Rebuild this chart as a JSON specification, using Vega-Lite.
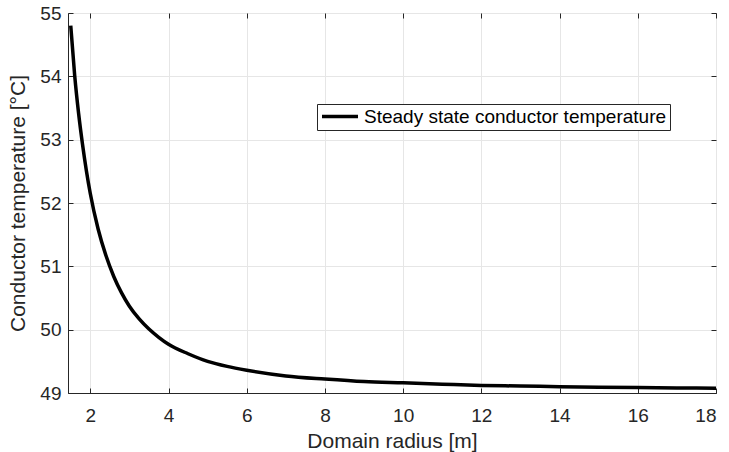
{
  "$schema": "https://vega.github.io/schema/vega-lite/v6.json",
  "width": 648,
  "height": 380,
  "autosize": {"type": "none"},
  "padding": {"left": 68, "top": 13, "right": 13, "bottom": 59},
  "background": "white",
  "config": {
    "font": "Liberation Sans",
    "view": {"stroke": "#262626", "strokeWidth": 1},
    "axis": {
      "domainColor": "#262626",
      "tickColor": "#262626",
      "labelColor": "#262626",
      "titleColor": "#262626",
      "gridColor": "#e6e6e6",
      "gridOpacity": 1,
      "labelFontSize": 19,
      "titleFontSize": 21,
      "titleFontWeight": "normal",
      "tickSize": -5
    }
  },
  "data": {
    "values": [
      {"r": 1.5, "t": 54.8},
      {"r": 1.6, "t": 54.02},
      {"r": 1.7, "t": 53.42},
      {"r": 1.8, "t": 52.93},
      {"r": 1.9, "t": 52.51},
      {"r": 2.0, "t": 52.15},
      {"r": 2.2, "t": 51.59},
      {"r": 2.4, "t": 51.17},
      {"r": 2.6, "t": 50.84},
      {"r": 2.8, "t": 50.58},
      {"r": 3.0, "t": 50.37},
      {"r": 3.25, "t": 50.17},
      {"r": 3.5, "t": 50.01},
      {"r": 3.75, "t": 49.88},
      {"r": 4.0, "t": 49.77},
      {"r": 4.5, "t": 49.62},
      {"r": 5.0, "t": 49.5},
      {"r": 5.5, "t": 49.42},
      {"r": 6.0, "t": 49.36},
      {"r": 7.0, "t": 49.27},
      {"r": 8.0, "t": 49.22},
      {"r": 9.0, "t": 49.18},
      {"r": 10.0, "t": 49.16},
      {"r": 11.0, "t": 49.14},
      {"r": 12.0, "t": 49.12},
      {"r": 13.0, "t": 49.11},
      {"r": 14.0, "t": 49.1},
      {"r": 15.0, "t": 49.09},
      {"r": 16.0, "t": 49.085},
      {"r": 17.0, "t": 49.08},
      {"r": 18.0, "t": 49.075}
    ]
  },
  "layer": [
    {
      "mark": {"type": "line", "strokeWidth": 3.5, "interpolate": "monotone"},
      "encoding": {
        "x": {
          "field": "r",
          "type": "quantitative",
          "scale": {"domain": [1.43, 18], "nice": false, "zero": false},
          "axis": {
            "title": "Domain radius [m]",
            "values": [2, 4, 6, 8, 10, 12, 14, 16, 18],
            "labelPadding": 18,
            "titlePadding": 5
          }
        },
        "y": {
          "field": "t",
          "type": "quantitative",
          "scale": {"domain": [49, 55], "nice": false, "zero": false},
          "axis": {
            "title": "Conductor temperature [°C]",
            "values": [49, 50, 51, 52, 53, 54, 55],
            "labelPadding": 12,
            "titlePadding": 11
          }
        },
        "color": {
          "datum": "Steady state conductor temperature",
          "type": "nominal",
          "scale": {"range": ["#000000"]},
          "legend": {
            "title": null,
            "orient": "none",
            "legendX": 249,
            "legendY": 91,
            "symbolType": "stroke",
            "symbolSize": 1296,
            "symbolStrokeWidth": 3.5,
            "clipHeight": 19,
            "labelFontSize": 19,
            "labelColor": "#000000",
            "labelOffset": 4,
            "labelLimit": 500,
            "strokeColor": "#262626",
            "padding": 3,
            "fillColor": "white"
          }
        }
      }
    },
    {
      "mark": {"type": "line", "opacity": 0},
      "encoding": {
        "x": {
          "field": "r",
          "type": "quantitative",
          "axis": {
            "orient": "top",
            "title": null,
            "labels": false,
            "grid": false,
            "domain": false,
            "values": [2, 4, 6, 8, 10, 12, 14, 16, 18]
          }
        },
        "y": {
          "field": "t",
          "type": "quantitative",
          "axis": {
            "orient": "right",
            "title": null,
            "labels": false,
            "grid": false,
            "domain": false,
            "values": [49, 50, 51, 52, 53, 54, 55]
          }
        }
      }
    }
  ],
  "resolve": {"axis": {"x": "independent", "y": "independent"}}
}
